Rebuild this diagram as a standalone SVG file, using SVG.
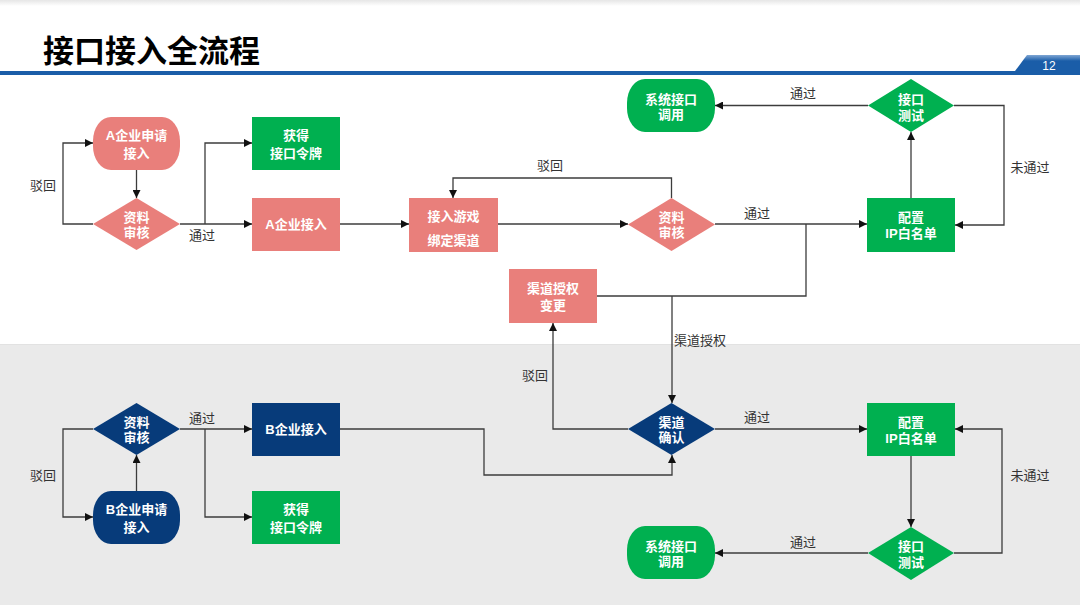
<svg xmlns="http://www.w3.org/2000/svg" width="1080" height="605" viewBox="0 0 1080 605">
<defs>
<linearGradient id="topShade" x1="0" y1="0" x2="0" y2="1">
<stop offset="0" stop-color="#e6e6e6"/>
<stop offset="1" stop-color="#ffffff"/>
</linearGradient>
<linearGradient id="tabGrad" x1="0" y1="0" x2="0" y2="1">
<stop offset="0" stop-color="#7fa6d4"/>
<stop offset="0.3" stop-color="#1a5da8"/>
<stop offset="1" stop-color="#1a5da8"/>
</linearGradient>
<marker id="arr" viewBox="0 0 10 10" refX="10" refY="5" markerWidth="8" markerHeight="8" markerUnits="userSpaceOnUse" orient="auto">
<path d="M0,0 L10,5 L0,10 z" fill="#111"/>
</marker>
<style>
.pink{fill:#e97f7b;}
.green{fill:#00b050;}
.navy{fill:#073b7a;}
.nt{font-family:"Liberation Sans","Noto Sans CJK SC",sans-serif;font-size:13px;font-weight:bold;fill:#fff;text-anchor:middle;}
.lb{font-family:"Liberation Sans","Noto Sans CJK SC",sans-serif;font-size:13px;fill:#333;text-anchor:middle;}
.cn{fill:none;stroke:#3c3c3c;stroke-width:1.3;}
.ar{marker-end:url(#arr);}
</style>
</defs>

<!-- background -->
<rect x="0" y="0" width="1080" height="605" fill="#ffffff"/>
<rect x="0" y="0" width="1080" height="6" fill="url(#topShade)"/>
<rect x="0" y="344" width="1080" height="261" fill="#eaeaea"/>
<line x1="0" y1="344.5" x2="1080" y2="344.5" stroke="#e2e2e2" stroke-width="1"/>

<!-- header -->
<g id="header">
<text x="43" y="62" font-family="'Noto Sans CJK SC',sans-serif" font-size="31" font-weight="bold" fill="#000">接口接入全流程</text>
<rect x="0" y="71" width="1080" height="4" fill="#1a5da8"/>
<polygon points="1012,75 1027,55 1080,55 1080,75" fill="url(#tabGrad)"/>
<text x="1049" y="70" font-family="'Liberation Sans',sans-serif" font-size="12" fill="#fff" text-anchor="middle">12</text>
</g>

<!-- connectors -->
<g id="connectors">
<path class="cn ar" d="M136.5,170 V198"/>
<path class="cn ar" d="M93,224 H63 V143 H93"/>
<path class="cn ar" d="M180,224 H252"/>
<path class="cn ar" d="M205,224 V143 H252"/>
<path class="cn ar" d="M340,224 H409"/>
<path class="cn ar" d="M498,224 H628"/>
<path class="cn ar" d="M671.5,198 V178 H453 V198"/>
<path class="cn ar" d="M715,224 H867"/>
<path class="cn" d="M597,296 H806 V224"/>
<path class="cn ar" d="M672,296 V403"/>
<path class="cn ar" d="M911,198 V132"/>
<path class="cn ar" d="M868,105.5 H715"/>
<path class="cn ar" d="M954,105.5 H1004 V225 H955"/>

<path class="cn ar" d="M628,429 H553 V323"/>
<path class="cn ar" d="M340,429 H484 V475 H672 V455"/>
<path class="cn ar" d="M715,429 H867"/>
<path class="cn ar" d="M911,456 V527"/>
<path class="cn ar" d="M868,553 H715"/>
<path class="cn ar" d="M954,553 H1002 V429 H955"/>
<path class="cn ar" d="M136.5,491 V455"/>
<path class="cn ar" d="M93,429 H63 V517 H93"/>
<path class="cn ar" d="M180,429 H252"/>
<path class="cn ar" d="M205,429 V517 H252"/>
</g>

<!-- labels -->
<g id="labels">
<text class="lb" x="43" y="190">驳回</text>
<text class="lb" x="202" y="240">通过</text>
<text class="lb" x="550" y="170">驳回</text>
<text class="lb" x="757" y="218">通过</text>
<text class="lb" x="803" y="98">通过</text>
<text class="lb" x="1030" y="172">未通过</text>
<text class="lb" x="700" y="345">渠道授权</text>
<text class="lb" x="535" y="380">驳回</text>
<text class="lb" x="757" y="422">通过</text>
<text class="lb" x="803" y="547">通过</text>
<text class="lb" x="1030" y="480">未通过</text>
<text class="lb" x="43" y="480">驳回</text>
<text class="lb" x="202" y="423">通过</text>
</g>

<!-- top nodes -->
<g id="a-apply">
<rect class="pink" x="93" y="117" width="87" height="53" rx="18" ry="24"/>
<text class="nt" x="136.5" y="139.5">A企业申请</text>
<text class="nt" x="136.5" y="157.5">接入</text>
</g>
<g id="a-review">
<polygon class="pink" points="136.5,198 180,224 136.5,250 93,224"/>
<text class="nt" x="136.5" y="221.5">资料</text>
<text class="nt" x="136.5" y="237">审核</text>
</g>
<g id="a-token">
<rect class="green" x="252" y="117" width="88" height="53"/>
<text class="nt" x="296" y="139.5">获得</text>
<text class="nt" x="296" y="157.5">接口令牌</text>
</g>
<g id="a-access">
<rect class="pink" x="252" y="198" width="88" height="53"/>
<text class="nt" x="296" y="229">A企业接入</text>
</g>
<g id="bind-channel">
<rect class="pink" x="409" y="198" width="89" height="54"/>
<text class="nt" x="453.5" y="220.5">接入游戏</text>
<text class="nt" x="453.5" y="244.5">绑定渠道</text>
</g>
<g id="review2">
<polygon class="pink" points="671.5,198 715,224.5 671.5,251 628,224.5"/>
<text class="nt" x="671.5" y="221.5">资料</text>
<text class="nt" x="671.5" y="237">审核</text>
</g>
<g id="channel-change">
<rect class="pink" x="509" y="269" width="88" height="54"/>
<text class="nt" x="553" y="292.5">渠道授权</text>
<text class="nt" x="553" y="309.5">变更</text>
</g>
<g id="ip-top">
<rect class="green" x="867" y="198" width="88" height="54"/>
<text class="nt" x="911" y="221.5">配置</text>
<text class="nt" x="911" y="237.5">IP白名单</text>
</g>
<g id="test-top">
<polygon class="green" points="911,79 954,105.5 911,132 868,105.5"/>
<text class="nt" x="911" y="103.5">接口</text>
<text class="nt" x="911" y="119.5">测试</text>
</g>
<g id="call-top">
<rect class="green" x="627" y="79" width="88" height="53" rx="18" ry="24"/>
<text class="nt" x="671" y="103.5">系统接口</text>
<text class="nt" x="671" y="118.5">调用</text>
</g>

<!-- bottom nodes -->
<g id="b-review">
<polygon class="navy" points="136.5,403 180,429 136.5,455 93,429"/>
<text class="nt" x="136.5" y="426.5">资料</text>
<text class="nt" x="136.5" y="442">审核</text>
</g>
<g id="b-apply">
<rect class="navy" x="93" y="491" width="87" height="53" rx="18" ry="24"/>
<text class="nt" x="136.5" y="513.5">B企业申请</text>
<text class="nt" x="136.5" y="531.5">接入</text>
</g>
<g id="b-access">
<rect class="navy" x="252" y="403" width="88" height="53"/>
<text class="nt" x="296" y="434">B企业接入</text>
</g>
<g id="b-token">
<rect class="green" x="252" y="491" width="88" height="53"/>
<text class="nt" x="296" y="513.5">获得</text>
<text class="nt" x="296" y="531.5">接口令牌</text>
</g>
<g id="channel-confirm">
<polygon class="navy" points="671.5,403 715,429 671.5,455 628,429"/>
<text class="nt" x="671.5" y="426.5">渠道</text>
<text class="nt" x="671.5" y="442">确认</text>
</g>
<g id="ip-bottom">
<rect class="green" x="867" y="403" width="88" height="53"/>
<text class="nt" x="911" y="426.5">配置</text>
<text class="nt" x="911" y="442.5">IP白名单</text>
</g>
<g id="test-bottom">
<polygon class="green" points="911,527 954,553 911,580 868,553"/>
<text class="nt" x="911" y="551">接口</text>
<text class="nt" x="911" y="567">测试</text>
</g>
<g id="call-bottom">
<rect class="green" x="627" y="526" width="88" height="53" rx="18" ry="24"/>
<text class="nt" x="671" y="550.5">系统接口</text>
<text class="nt" x="671" y="565.5">调用</text>
</g>
</svg>
